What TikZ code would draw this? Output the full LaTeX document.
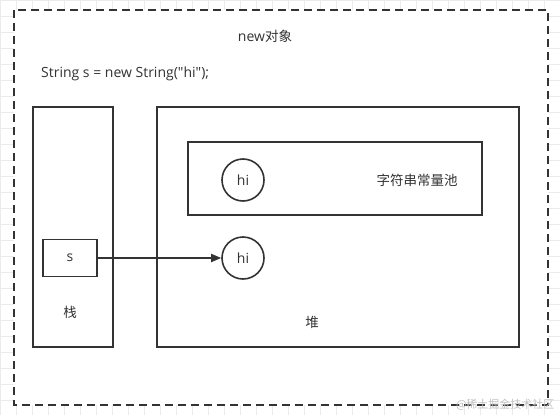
\documentclass[tikz,border=0pt]{standalone}
\usepackage{fontspec}
\newfontfamily\yh{Noto Sans CJK SC}
\newfontfamily\lat{Open Sans}
\usetikzlibrary{arrows.meta}
\begin{document}
\begin{tikzpicture}[x=1pt,y=-1pt,
  box/.style={draw=black!80,line width=1.6pt},
  ball/.style={circle,draw=black!80,line width=1.6pt,minimum size=42pt,inner sep=0pt,font=\lat\fontsize{14}{16}\selectfont,text=black!80},
  lbl/.style={font=\lat\fontsize{14}{16}\selectfont,text=black!80,inner sep=0pt},
  cjk/.style={font=\yh\fontsize{13.5}{16}\selectfont,text=black!80,inner sep=0pt},
  frame/.style={draw=black!80,line width=2pt,dash pattern=on 8pt off 5pt}]
\useasboundingbox (0,0) rectangle (560,415);
\fill[white] (0,0) rectangle (560,415);
\draw[black!8,line width=0.5pt,step=16pt] (0,0) grid (560,415);
\fill[white] (14,10) rectangle (548,405);
\draw[frame] (14,10) rectangle (548,405);
\node[lbl] (title) at (265,36) {new{\yh\fontsize{13.5}{16}\selectfont 对象}};
\node[lbl,anchor=west] (code) at (41,74) {String s = new String("hi");};
\draw[box] (33,107) rectangle (113,347);
\draw[box] (157,107) rectangle (519,347);
\draw[box] (188,142) rectangle (482,215);
\node[ball] (hi1) at (243,180) {hi};
\node[cjk] (pool) at (417,180) {字符串常量池};
\node[box,minimum width=54pt,minimum height=37pt,inner sep=0pt,font=\lat\fontsize{14}{16}\selectfont,text=black!80] (s) at (70,258) {s};
\node[ball] (hi2) at (243,258) {hi};
\node[cjk] (stack) at (70,312) {栈};
\node[cjk] (heap) at (312,322) {堆};
\draw[black!80,line width=1.8pt,-{Triangle[length=10pt,width=8pt]}] (s) -- (hi2);
\node[font=\yh\fontsize{11}{13}\selectfont,text=black!25,anchor=east] (wm) at (558,405) {@稀土掘金技术社区};
\end{tikzpicture}
\end{document}
